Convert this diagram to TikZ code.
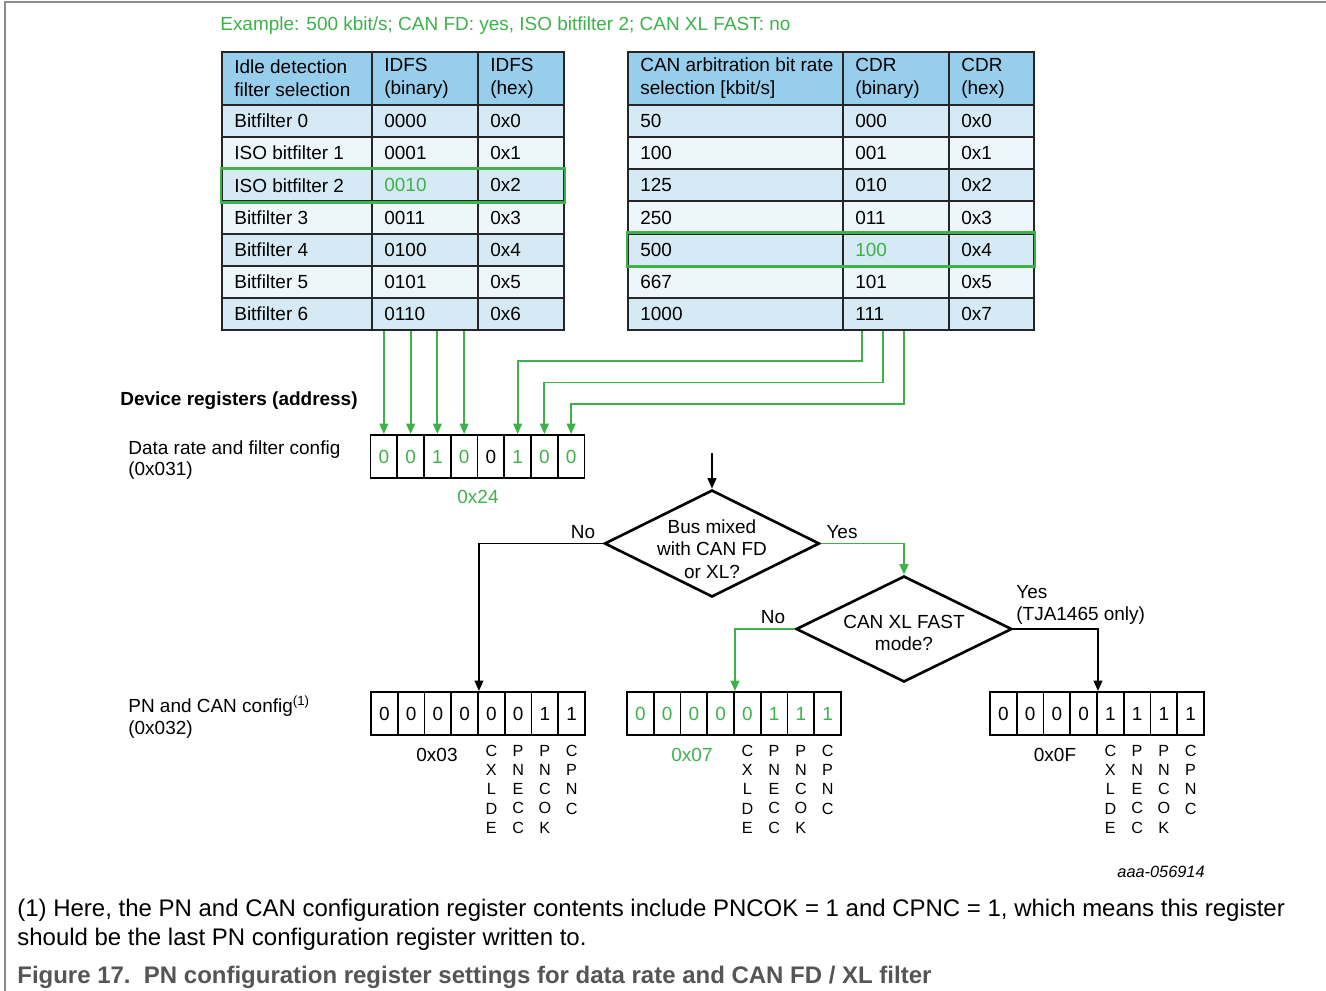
\documentclass[tikz,border=0pt]{standalone}
\usepackage{fontspec}
\setmainfont{Liberation Sans}
\usetikzlibrary{arrows.meta,shapes.geometric}
\definecolor{hdr}{RGB}{150,206,236}
\definecolor{rowA}{RGB}{214,234,245}
\definecolor{rowB}{RGB}{237,246,251}
\definecolor{grn}{RGB}{60,178,72}
\definecolor{framec}{RGB}{140,140,140}
\definecolor{capc}{RGB}{85,85,85}
\newcommand{\fs}{\fontsize{10.8}{13}\selectfont}
\newcommand{\gtxt}{\color{grn}}
\newcommand{\mkcell}[7]{%
  \node[cellbox, fill=#6, minimum width=#4*0.02cm, minimum height=#5*0.02cm, anchor=north west] (#1) at (#2,#3) {};
  \node[celltext] (#1t) at ([xshift=0.26cm]#1.west) {#7};
}
\newcommand{\mkreg}[4]{%
  \foreach \bt [count=\i] in {#4} {
    \node[bitbox] (#1\i) at ({#2+(\i-0.5)*26.75},{#3+21.5}) {\bt};
  }
}
\tikzset{
  cellbox/.style={draw=black!85, line width=1.1pt, inner sep=0pt},
  celltext/.style={font=\fs, align=left, anchor=west, inner sep=0pt},
  bitbox/.style={draw=black, line width=1.1pt, minimum width=0.535cm, minimum height=0.86cm, inner sep=0pt, font=\fs},
  hl/.style={draw=grn, line width=1.6pt},
  garr/.style={draw=grn, line width=1.1pt, -{Triangle[length=6pt,width=5pt]}},
  barr/.style={draw=black, line width=1pt, -{Triangle[length=6pt,width=5pt]}},
  dia/.style={diamond, draw=black, line width=1.5pt, inner sep=0pt, minimum width=4.3cm, minimum height=2.14cm},
  txt/.style={font=\fs, inner sep=0pt},
  vlab/.style={font=\fontsize{9.2}{10.9}\selectfont, align=center, inner sep=0pt, anchor=north},
}
\begin{document}
\begin{tikzpicture}[x=0.02cm,y=-0.02cm]
\useasboundingbox (0,0) rectangle (1326,991);
% frame
\draw[framec, line width=1.1pt] (1326,2) -- (5,2) -- (5,991);

% example text
\node[txt, anchor=west, text=grn] (ex) at (220,25.5) {Example: 500 kbit/s; CAN FD: yes, ISO bitfilter 2; CAN XL FAST: no};

% left table
\mkcell{L-0-1}{221}{51}{150}{53}{hdr}{Idle detection\\filter selection}
\mkcell{L-0-2}{371}{51}{106}{53}{hdr}{IDFS\\(binary)}
\mkcell{L-0-3}{477}{51}{86}{53}{hdr}{IDFS\\(hex)}
\foreach \r/\a/\b/\c/\f in {1/Bitfilter 0/0000/0x0/rowA, 2/ISO bitfilter 1/0001/0x1/rowB, 3/ISO bitfilter 2/{\gtxt 0010}/0x2/rowA, 4/Bitfilter 3/0011/0x3/rowB, 5/Bitfilter 4/0100/0x4/rowA, 6/Bitfilter 5/0101/0x5/rowB, 7/Bitfilter 6/0110/0x6/rowA} {
  \pgfmathsetmacro\yt{104+(\r-1)*32.143}
  \mkcell{L-\r-1}{221}{\yt}{150}{32.143}{\f}{\a}
  \mkcell{L-\r-2}{371}{\yt}{106}{32.143}{\f}{\b}
  \mkcell{L-\r-3}{477}{\yt}{86}{32.143}{\f}{\c}
}
\draw[hl] (L-3-1.north west) rectangle (L-3-3.south east);

% right table
\mkcell{R-0-1}{627}{51}{215}{53}{hdr}{CAN arbitration bit rate\\selection [kbit/s]}
\mkcell{R-0-2}{842}{51}{106}{53}{hdr}{CDR\\(binary)}
\mkcell{R-0-3}{948}{51}{85}{53}{hdr}{CDR\\(hex)}
\foreach \r/\a/\b/\c/\f in {1/50/000/0x0/rowA, 2/100/001/0x1/rowB, 3/125/010/0x2/rowA, 4/250/011/0x3/rowB, 5/500/{\gtxt 100}/0x4/rowA, 6/667/101/0x5/rowB, 7/1000/111/0x7/rowA} {
  \pgfmathsetmacro\yt{104+(\r-1)*32.143}
  \mkcell{R-\r-1}{627}{\yt}{215}{32.143}{\f}{\a}
  \mkcell{R-\r-2}{842}{\yt}{106}{32.143}{\f}{\b}
  \mkcell{R-\r-3}{948}{\yt}{85}{32.143}{\f}{\c}
}
\draw[hl] (R-5-1.north west) rectangle (R-5-3.south east);

% labels left
\node[txt, anchor=west, font=\fs\bfseries] (devreg) at (120,400.5) {Device registers (address)};
\node[txt, anchor=west, align=left, font=\fontsize{10.8}{12.2}\selectfont] (dlab) at (128,460) {Data rate and filter config\\(0x031)};
\node[txt, anchor=west, align=left, font=\fontsize{10.8}{12.4}\selectfont] (plab) at (128,717) {PN and CAN config\textsuperscript{(1)}\\(0x032)};

% register 0x031
\mkreg{Q}{370.5}{435}{\gtxt 0,\gtxt 0,\gtxt 1,\gtxt 0,0,\gtxt 1,\gtxt 0,\gtxt 0}
\node[txt, text=grn] (hexQ) at (478,497) {0x24};

% arrows from left table
\foreach \i in {1,...,4} {
  \draw[garr] (L-7-2.south -| Q\i) -- (Q\i.north);
}
% arrows from right table
\coordinate (s1) at ([xshift=0.4cm]R-7-2.south west);
\coordinate (s2) at ([xshift=0.82cm]R-7-2.south west);
\coordinate (s3) at ([xshift=1.24cm]R-7-2.south west);
\coordinate (h1) at (0,361);
\coordinate (h2) at (0,382.5);
\coordinate (h3) at (0,404);
\draw[garr] (s1) -- (s1 |- h1) -| (Q6.north);
\draw[garr] (s2) -- (s2 |- h2) -| (Q7.north);
\draw[garr] (s3) -- (s3 |- h3) -| (Q8.north);

% flowchart
\node[dia] (d1) at (712,543.5) {};
\node[txt, align=center, font=\fontsize{10.8}{12.8}\selectfont] (d1t) at (712,549) {Bus mixed\\with CAN FD\\or XL?};
\node[dia, minimum width=4.32cm, minimum height=2.12cm] (d2) at (904,629) {};
\node[txt, align=center, font=\fontsize{10.8}{13}\selectfont] (d2t) at (904,633) {CAN XL FAST\\mode?};
\coordinate (in) at (712,453);
\draw[barr] (in) -- (d1.north);

% registers 0x032
\mkreg{A}{371}{692}{0,0,0,0,0,0,1,1}
\mkreg{B}{627}{692}{\gtxt 0,\gtxt 0,\gtxt 0,\gtxt 0,\gtxt 0,\gtxt 1,\gtxt 1,\gtxt 1}
\mkreg{C}{990}{692}{0,0,0,0,1,1,1,1}

\draw[barr] (d1.west) -| (A4.north east);
\node[txt] (no1) at (583,532) {No};
\draw[garr] (d1.east) -| (d2.north);
\node[txt] (yes1) at (842,532) {Yes};
\draw[garr] (d2.west) -| (B4.north east);
\node[txt] (no2) at (773,617) {No};
\draw[barr] (d2.east) -| (C4.north east);
\node[txt, anchor=west, align=left, font=\fontsize{10.8}{12.6}\selectfont] (yes2) at (1016,605) {Yes\\(TJA1465 only)};

\node[txt] (hexA) at (437,755) {0x03};
\node[txt, text=grn] (hexB) at (692,755) {0x07};
\node[txt] (hexC) at (1055,755) {0x0F};

\foreach \R in {A,B,C} {
  \node[vlab] (\R-v5) at ([yshift=-0.18cm]\R5.south) {C\\X\\L\\D\\E};
  \node[vlab] (\R-v6) at ([yshift=-0.18cm]\R6.south) {P\\N\\E\\C\\C};
  \node[vlab] (\R-v7) at ([yshift=-0.18cm]\R7.south) {P\\N\\C\\O\\K};
  \node[vlab] (\R-v8) at ([yshift=-0.18cm]\R8.south) {C\\P\\N\\C};
}

\node[txt, anchor=east, font=\fontsize{9.3}{11}\selectfont\itshape] (aaa) at (1205,872) {aaa-056914};

% footnote and caption
\node[txt, anchor=west, align=left, font=\fontsize{13.65}{16.4}\selectfont] (foot) at (17,924.5) {(1) Here, the PN and CAN configuration register contents include PNCOK = 1 and CPNC = 1, which means this register\\should be the last PN configuration register written to.};
\node[txt, anchor=west, font=\fontsize{13.65}{16}\selectfont\bfseries, text=capc] (capt) at (17,977) {Figure 17.\ \ PN configuration register settings for data rate and CAN FD / XL filter};
\end{tikzpicture}
\end{document}
